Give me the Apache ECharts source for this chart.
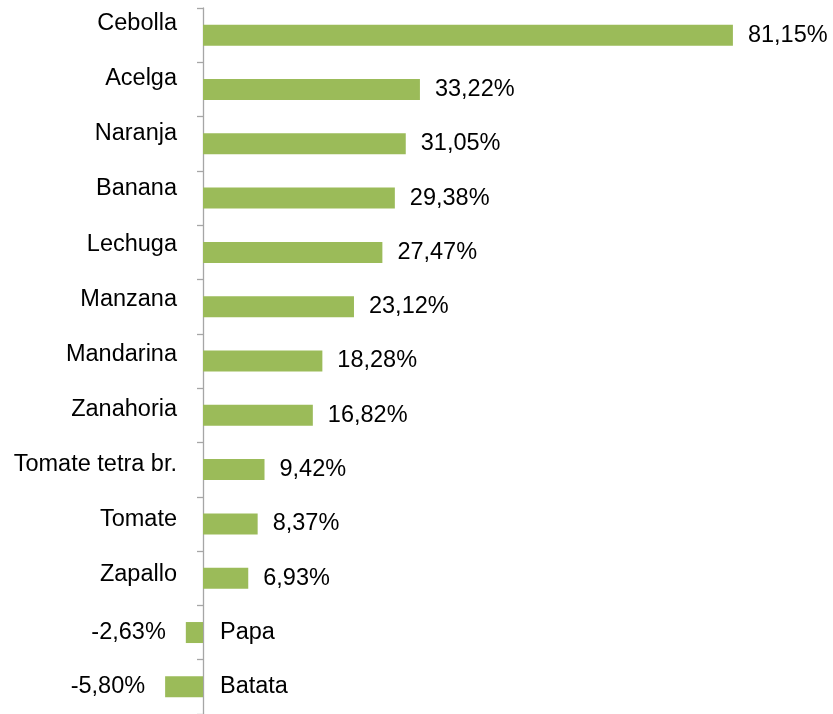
<!DOCTYPE html>
<html>
<head>
<meta charset="utf-8">
<script src="https://cdn.jsdelivr.net/npm/echarts@6/dist/echarts.min.js"></script>
<style>
  html, body { margin: 0; padding: 0; background: #fff; }
  #chart { width: 833px; height: 714px; }
</style>
</head>
<body>
<div id="chart"></div>
<script>
// categorías y variaciones (%)
const categories = ['Cebolla', 'Acelga', 'Naranja', 'Banana', 'Lechuga', 'Manzana', 'Mandarina',
  'Zanahoria', 'Tomate tetra br.', 'Tomate', 'Zapallo', 'Papa', 'Batata']
const values = [81.15, 33.22, 31.05, 29.38, 27.47, 23.12, 18.28, 16.82, 9.42, 8.37, 6.93, -2.63, -5.80]

const font = 'Liberation Sans, Arial, sans-serif'
const fontSize = 23.5

const fmt = v => v.toFixed(2).replace('.', ',') + '%'

// rango del eje de valores y posición del grid
const xMin = -10
const xMax = 90
const gridLeft = 137.7
const gridRight = 42.3
// desplazamiento del eje de categorías hasta el cero
const zeroShift = (833 - gridLeft - gridRight) * (0 - xMin) / (xMax - xMin)

// etiquetas de categoría algo elevadas respecto a la barra (más arriba en la parte superior)
const rich = {}
categories.forEach((c, i) => {
  const shift = Math.max(0, 11.5 - i * 0.8)
  rich['s' + i] = { fontSize: fontSize, fontFamily: font, color: '#000', padding: [0, 0, shift * 2, 0] }
})

const chart = echarts.init(document.getElementById('chart'))
chart.setOption({
  animation: false,
  grid: { left: gridLeft, right: gridRight, top: 8, bottom: 0, containLabel: false, outerBoundsMode: 'none' },
  xAxis: { type: 'value', min: xMin, max: xMax, show: false },
  yAxis: [
    {
      type: 'category',
      data: categories,
      inverse: true,
      offset: -zeroShift,
      axisLine: { onZero: false, lineStyle: { color: '#a6a6a6', width: 1.3 } },
      axisTick: { show: true, length: 6, alignWithLabel: false, lineStyle: { color: '#a6a6a6', width: 1.3 } },
      axisLabel: {
        margin: 26,
        formatter: (name, i) => values[i] >= 0 ? '{s' + i + '|' + name + '}' : '',
        rich: rich
      },
      splitLine: { show: false }
    },
    {
      type: 'category',
      data: categories,
      inverse: true,
      position: 'left',
      offset: -zeroShift,
      axisLine: { show: false, onZero: false },
      axisTick: { show: false },
      axisLabel: {
        inside: true,
        margin: 17,
        fontSize: fontSize,
        fontFamily: font,
        color: '#000',
        formatter: (name, i) => values[i] < 0 ? name : ''
      },
      splitLine: { show: false }
    }
  ],
  series: [{
    type: 'bar',
    data: values.map(v => v < 0
      ? { value: v, label: { position: 'left', distance: 20 } }
      : v),
    barWidth: 21,
    itemStyle: { color: '#9bbb59' },
    label: {
      show: true,
      fontSize: fontSize,
      fontFamily: font,
      color: '#000',
      formatter: p => fmt(p.value),
      position: 'right',
      distance: 15
    }
  }]
})
</script>
</body>
</html>
